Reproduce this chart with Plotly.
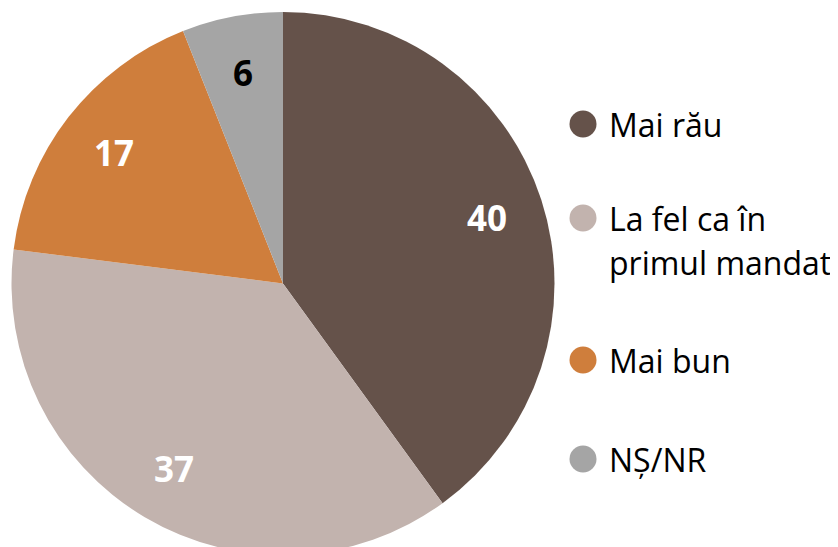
import math
import plotly.graph_objects as go

# ---- data ----
categories = ["Mai rău", "La fel ca în primul mandat", "Mai bun", "NȘ/NR"]
values = [40, 37, 17, 6]
legend_lines = [["Mai rău"], ["La fel ca în", "primul mandat"], ["Mai bun"], ["NȘ/NR"]]

# ---- style ----
colors = ["#65524A", "#C2B3AE", "#CF7E3C", "#A5A5A5"]
label_colors = ["white", "white", "white", "black"]
W, H = 838, 547
OFF = 8  # page body margin offset
FONT = "Open Sans"

# pie placement (page pixels)
pie_left, pie_right, pie_top = 11, 555, 12
pie_bottom = H + OFF
label_radius_frac = 0.79

# legend layout (page pixels)
leg_marker_x = 583
leg_text_x = 607
leg_item_y = [124, 218, 360, 459]
leg_line_gap = 44


def px_x(p):
    return (p - OFF) / W


def px_y(p):
    return 1 - (p - OFF) / H


fig = go.Figure()
fig.add_trace(go.Pie(
    labels=categories, values=values,
    textinfo="none",
    sort=False, direction="clockwise", rotation=0,
    marker=dict(colors=colors, line=dict(width=0)),
    domain=dict(x=[px_x(pie_left), px_x(pie_right)], y=[0, px_y(pie_top)]),
    showlegend=False, hoverinfo="skip",
))

fig.add_trace(go.Scatter(
    x=[leg_marker_x] * len(categories), y=leg_item_y,
    mode="markers",
    marker=dict(size=27, color=colors, line=dict(width=0)),
    showlegend=False, hoverinfo="skip",
))

annotations = []
# slice value labels, placed along each slice's mid-angle
dom_w = pie_right - pie_left
dom_h = pie_bottom - pie_top
R = min(dom_w, dom_h) / 2
cx = (pie_left + pie_right) / 2
cy = (pie_top + pie_bottom) / 2
total = sum(values)
cum = 0
for v, c in zip(values, label_colors):
    mid = (cum + v / 2) / total * 2 * math.pi
    cum += v
    x = cx + label_radius_frac * R * math.sin(mid)
    y = cy - label_radius_frac * R * math.cos(mid)
    annotations.append(dict(
        x=x, y=y, xref="x", yref="y", text=str(v), showarrow=False,
        xanchor="center", yanchor="middle",
        font=dict(family=FONT, size=35, color=c, weight="bold"),
    ))

for lines, y0 in zip(legend_lines, leg_item_y):
    for j, line in enumerate(lines):
        annotations.append(dict(
            x=leg_text_x, y=y0 + j * leg_line_gap, xref="x", yref="y",
            text=line, showarrow=False, xanchor="left", yanchor="middle",
            font=dict(family=FONT, size=32, color="#000000"),
        ))

fig.update_layout(
    width=W, height=H,
    margin=dict(l=0, r=0, t=0, b=0),
    paper_bgcolor="white", plot_bgcolor="white",
    xaxis=dict(range=[OFF, W + OFF], visible=False, fixedrange=True, domain=[0, 1]),
    yaxis=dict(range=[H + OFF, OFF], visible=False, fixedrange=True, domain=[0, 1]),
    annotations=annotations,
    showlegend=False,
)

fig.write_html("out.html")
